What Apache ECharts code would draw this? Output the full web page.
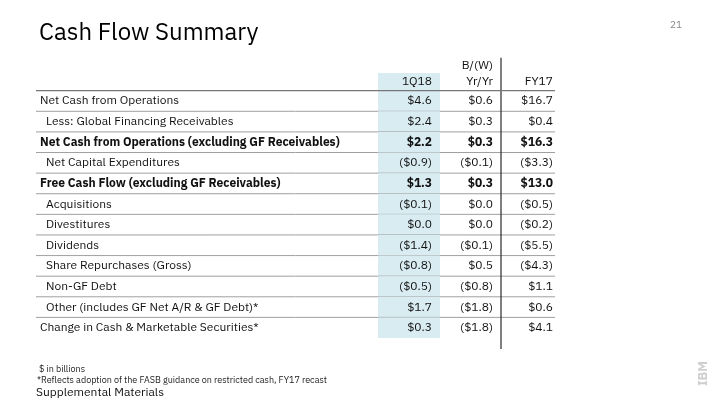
<!DOCTYPE html>
<html><head><meta charset="utf-8">
<script src="https://cdn.jsdelivr.net/npm/echarts@6/dist/echarts.min.js"></script>
<style>html,body{margin:0;padding:0;background:#fff}#c{width:720px;height:405px}</style>
</head><body><div id="c"></div>
<script>
const rowLabels = [
  'Net Cash from Operations',
  'Less: Global Financing Receivables',
  'Net Cash from Operations (excluding GF Receivables)',
  'Net Capital Expenditures',
  'Free Cash Flow (excluding GF Receivables)',
  'Acquisitions',
  'Divestitures',
  'Dividends',
  'Share Repurchases (Gross)',
  'Non-GF Debt',
  'Other (includes GF Net A/R & GF Debt)*',
  'Change in Cash & Marketable Securities*'
];
const boldRows = [2, 4];
const indentRows = [1, 3, 5, 6, 7, 8, 9, 10];
const q1_18 = [4.6, 2.4, 2.2, -0.9, 1.3, -0.1, 0.0, -1.4, -0.8, -0.5, 1.7, 0.3];
const bwYrYr = [0.6, 0.3, 0.3, -0.1, 0.3, 0.0, 0.0, -0.1, 0.5, -0.8, -1.8, -1.8];
const fy17 = [16.7, 0.4, 16.3, -3.3, 13.0, -0.5, -0.2, -5.5, -4.3, 1.1, 0.6, 4.1];
const colHeaders = ['1Q18', 'Yr/Yr', 'FY17'];
const colHeaderTop = ['', 'B/(W)', ''];

const FONT = '"IBM Plex Sans","Noto Sans",sans-serif';
const fmt = v => v < 0 ? '($' + Math.abs(v).toFixed(1) + ')' : '$' + v.toFixed(1);
const n = rowLabels.length;
// layout (x units == px)
const L = { left: 36, right: 555, blueL: 378, blueR: 440, vline: 501, cols: [432, 493, 553] };

const chart = echarts.init(document.getElementById('c'), null, { renderer: 'canvas' });

const rowData = rowLabels.map((_, i) => [i]);

chart.setOption({
  animation: false,
  backgroundColor: '#ffffff',
  title: {
    text: 'Cash Flow Summary', left: 34, top: 16,
    textStyle: { fontFamily: FONT, fontSize: 24, fontWeight: 'normal', color: '#000' }
  },
  grid: { left: 36, right: 165, top: 90.7, bottom: 67 },
  xAxis: { type: 'value', min: 36, max: 555, show: false },
  yAxis: { type: 'category', data: rowLabels, inverse: true, show: false },
  series: [
    {
      type: 'custom',
      data: rowData,
      renderItem: function (params, api) {
        const i = api.value(0);
        const c = api.coord([L.left, i]);
        const h = api.size([0, 1])[1];
        const top = c[1] - h / 2, bot = c[1] + h / 2;
        const X = v => api.coord([v, i])[0];
        const ch = [];
        ch.push({ type: 'rect', shape: { x: X(L.blueL), y: top, width: X(L.blueR) - X(L.blueL), height: h }, style: { fill: '#d9ecf2' } });
        if (i < n - 1) {
          ch.push({ type: 'line', shape: { x1: X(L.left), y1: bot, x2: X(L.right), y2: bot }, style: { stroke: '#a0a0a0', lineWidth: 1 } });
        }
        ch.push({ type: 'line', shape: { x1: X(L.vline), y1: top, x2: X(L.vline), y2: bot }, style: { stroke: '#000', lineWidth: 1 } });
        const bold = boldRows.indexOf(i) >= 0;
        const fw = bold ? 'bold' : 'normal';
        const indent = indentRows.indexOf(i) >= 0 ? 10 : 4;
        ch.push({ type: 'text', style: { text: rowLabels[i], x: X(L.left) + indent, y: c[1], textAlign: 'left', textVerticalAlign: 'middle', font: fw + ' 12px ' + FONT, fill: '#111' } });
        const vals = [q1_18[i], bwYrYr[i], fy17[i]];
        vals.forEach((v, k) => {
          ch.push({ type: 'text', style: { text: fmt(v), x: X(L.cols[k]), y: c[1], textAlign: 'right', textVerticalAlign: 'middle', font: fw + ' 12px ' + FONT, fill: '#111' } });
        });
        return { type: 'group', children: ch };
      }
    },
    {
      type: 'custom',
      data: [[0]],
      renderItem: function (params, api) {
        const c0 = api.coord([L.left, 0]);
        const h = api.size([0, 1])[1];
        const top = c0[1] - h / 2;
        const cl = api.coord([L.left, n - 1]);
        const bottom = cl[1] + h / 2;
        const X = v => api.coord([v, 0])[0];
        const ch = [];
        ch.push({ type: 'rect', shape: { x: X(L.blueL), y: top - 17.7, width: X(L.blueR) - X(L.blueL), height: 17.7 }, style: { fill: '#d9ecf2' } });
        ch.push({ type: 'line', shape: { x1: X(L.vline), y1: top - 33, x2: X(L.vline), y2: top }, style: { stroke: '#000', lineWidth: 1 } });
        ch.push({ type: 'line', shape: { x1: X(L.vline), y1: bottom, x2: X(L.vline), y2: bottom + 11 }, style: { stroke: '#000', lineWidth: 1 } });
        ch.push({ type: 'line', shape: { x1: X(L.left), y1: top, x2: X(L.right), y2: top }, style: { stroke: '#777', lineWidth: 1.2 } });
        colHeaders.forEach((t, k) => {
          ch.push({ type: 'text', style: { text: t, x: X(L.cols[k]), y: top - 9, textAlign: 'right', textVerticalAlign: 'middle', font: '12px ' + FONT, fill: '#111' } });
          if (colHeaderTop[k]) {
            ch.push({ type: 'text', style: { text: colHeaderTop[k], x: X(L.cols[k]), y: top - 25.5, textAlign: 'right', textVerticalAlign: 'middle', font: '12px ' + FONT, fill: '#111' } });
          }
        });
        return { type: 'group', children: ch };
      }
    }
  ],
  graphic: [
    { type: 'text', left: 670, top: 20, style: { text: '21', font: '10px ' + FONT, fill: '#888' } },
    { type: 'text', left: 39, top: 365, style: { text: '$ in billions', font: '9px ' + FONT, fill: '#222' } },
    { type: 'text', left: 37, top: 376, style: { text: '*Reflects adoption of the FASB guidance on restricted cash, FY17 recast', font: '9px ' + FONT, fill: '#222' } },
    { type: 'text', left: 36, top: 387, style: { text: 'Supplemental Materials', font: '12px ' + FONT, fill: '#111' } },
    { type: 'text', x: 697, y: 386, rotation: Math.PI / 2, style: { text: 'IBM', font: '900 13px ' + FONT, fill: '#cfcfcf' } }
  ]
});
</script>
</body></html>
